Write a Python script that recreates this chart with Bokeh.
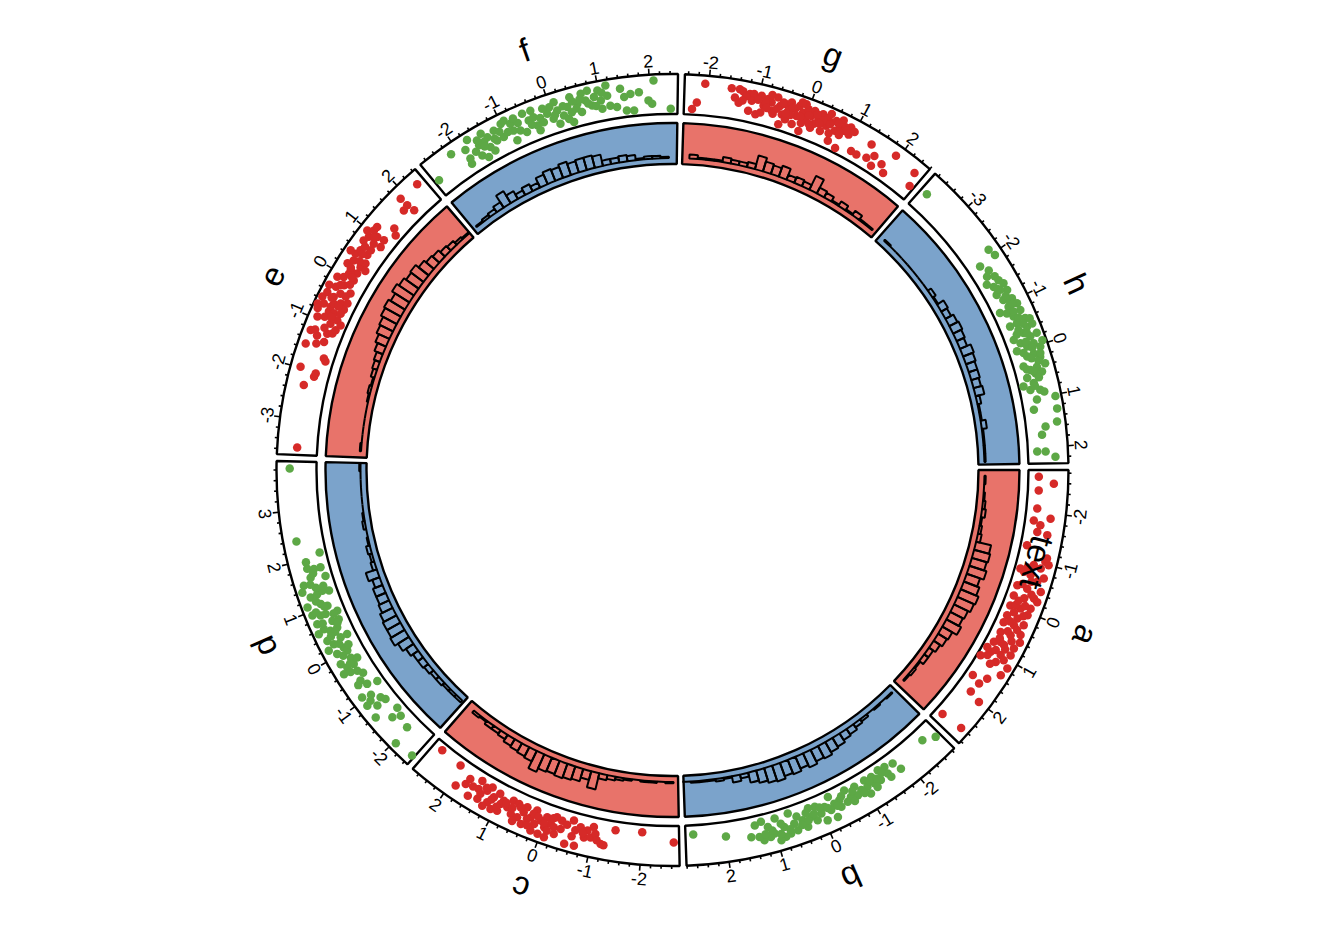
import math
from bokeh.plotting import figure
from bokeh.models import Range1d, ColumnDataSource
from bokeh.core.properties import value
from bokeh.embed import file_html
from bokeh.resources import INLINE

# ---------------- data ----------------
sectors = ["a", "b", "c", "d", "e", "f", "g", "h"]
xlim_min = [-2.86, -2.86, -2.75, -2.48, -3.71, -2.73, -2.47, -3.88]
xlim_max = [2.85, 2.81, 2.75, 3.97, 2.46, 2.55, 2.60, 2.33]

a_x = [-2.72, -2.59, -2.44, -2.07, -1.82, -1.90, -1.74, -1.60, -1.29, -1.57, -1.05, -0.90, -1.00, -0.79, -0.72, -0.73, -0.63, -0.44, -0.44, -0.46, -0.22, -0.24, -0.30, 0.00, -0.02, -0.09, 0.21, 0.19, 0.05, 0.37, 0.34, 0.26, 0.58, 0.55, 0.46, 0.82, 0.78, 0.75, 1.03, 0.99, 0.90, 1.12, 1.20, 1.15, 1.16, 1.63, 1.70, 1.53, 1.33, 1.93, 2.00, 2.65, 2.61, -0.05, 0.76, 0.98, -0.93, -1.12,
       -0.85, -0.60, -0.50, -0.35, -0.15, -0.10, 0.10, 0.10, 0.30, 0.40, 0.50, 0.65, 0.70, 0.85, 0.95, 1.05, 1.25, -0.75, -0.25, 0.60]
a_y = [0.26, 0.64, 0.27, 0.27, 0.22, 0.63, 0.40, 0.35, 0.16, 0.61, 0.70, 0.63, 0.80, 0.14, 0.43, 0.77, 0.64, 0.19, 0.45, 0.80, 0.19, 0.46, 0.69, 0.20, 0.47, 0.70, 0.22, 0.49, 0.69, 0.21, 0.48, 0.70, 0.25, 0.51, 0.73, 0.21, 0.47, 0.73, 0.26, 0.52, 0.74, 0.23, 0.09, 0.83, 0.50, 0.19, 0.44, 0.54, 0.78, 0.39, 0.71, 0.20, 0.78, 0.32, 0.36, 0.13, 0.44, 0.72,
       0.30, 0.50, 0.30, 0.60, 0.35, 0.55, 0.35, 0.60, 0.35, 0.60, 0.40, 0.60, 0.30, 0.55, 0.35, 0.65, 0.40, 0.25, 0.80, 0.80]

b_x = [-2.76, -2.52, -1.82, -1.75, -1.57, -1.55, -1.42, -1.36, -1.23, -1.22, -1.07, -1.06, -0.92, -0.83, -0.81, -0.67, -0.61, -0.57, -0.43, -0.41, -0.31, -0.20, -0.25, -0.10, 0.01, 0.13, 0.08, 0.22, 0.35, 0.41, 0.56, 0.59, 0.71, 0.82, 0.80, 0.93, 1.02, 1.11, 1.12, 1.25, 1.33, 1.37, 1.23, 0.22, 0.65, 0.94, 1.99, 2.65, -1.05, -1.23, -1.57, -0.26, -0.05, 1.49,
       -1.45, -1.30, -1.15, -0.95, -0.75, -0.50, -0.35, -0.15, 0.00, 0.15, 0.30, 0.45, 0.50, 0.70, 0.90, 1.05, 1.20, -0.70, 0.30, 0.85]
b_y = [0.47, 0.30, 0.50, 0.27, 0.22, 0.40, 0.19, 0.44, 0.24, 0.42, 0.22, 0.40, 0.39, 0.23, 0.46, 0.41, 0.19, 0.48, 0.35, 0.52, 0.37, 0.48, 0.15, 0.34, 0.46, 0.58, 0.24, 0.44, 0.64, 0.44, 0.64, 0.45, 0.66, 0.70, 0.45, 0.75, 0.54, 0.60, 0.34, 0.64, 0.53, 0.22, 0.17, 0.21, 0.16, 0.18, 0.36, 0.23, 0.59, 0.54, 0.52, 0.71, 0.68, 0.49,
       0.30, 0.35, 0.30, 0.50, 0.30, 0.28, 0.45, 0.40, 0.30, 0.40, 0.50, 0.55, 0.30, 0.55, 0.60, 0.45, 0.50, 0.55, 0.30, 0.35]

c_x = [2.54, 2.05, 1.90, 1.75, 1.73, 1.59, 1.48, 1.50, 1.31, 1.25, 1.40, 1.20, 1.13, 1.05, 0.92, 1.08, 0.95, 0.80, 0.74, 0.61, 0.68, 0.54, 0.46, 0.43, 0.29, 0.18, 0.22, 0.08, 0.42, 0.20, 0.05, -0.03, -0.02, -0.13, -0.25, -0.09, -0.21, -0.33, -0.50, -0.56, -0.64, -0.73, -0.84, -0.88, -0.69, -0.97, -1.05, -1.19, -1.25, -0.99, -1.44, -1.99, -2.64, 0.26, 1.40, -0.21, 0.95,
       1.60, 1.35, 1.15, 1.00, 0.85, 0.70, 0.55, 0.35, 0.15, 0.00, -0.10, -0.35, -0.45, -0.60, -0.80, -1.10, 0.60, 0.30, -0.15, 1.25]
c_y = [0.17, 0.19, 0.67, 0.50, 0.33, 0.72, 0.43, 0.21, 0.36, 0.22, 0.66, 0.61, 0.42, 0.27, 0.38, 0.72, 0.68, 0.49, 0.27, 0.29, 0.60, 0.61, 0.43, 0.28, 0.48, 0.60, 0.26, 0.46, 0.73, 0.79, 0.80, 0.59, 0.33, 0.45, 0.67, 0.83, 0.25, 0.29, 0.83, 0.20, 0.43, 0.32, 0.55, 0.36, 0.81, 0.51, 0.40, 0.62, 0.64, 0.24, 0.22, 0.19, 0.41, 0.37, 0.51, 0.51, 0.49,
       0.45, 0.30, 0.50, 0.60, 0.40, 0.45, 0.35, 0.55, 0.40, 0.50, 0.65, 0.50, 0.35, 0.60, 0.45, 0.55, 0.75, 0.70, 0.30, 0.75]

d_x = [3.83, 2.39, 2.08, 1.82, 1.78, 1.78, 1.58, 1.63, 1.52, 1.40, 1.26, 1.28, 1.31, 1.27, 1.07, 0.99, 1.10, 0.92, 0.86, 0.85, 0.82, 0.65, 0.73, 0.59, 0.51, 0.54, 0.51, 0.30, 0.35, 0.24, 0.09, 0.30, 0.17, 0.04, -0.16, -0.17, -0.29, -0.30, -0.45, -0.37, -0.65, -0.78, -0.85, -0.94, -1.09, -1.16, -1.25, -1.13, -1.25, -1.54, -1.71, -1.62, -1.41, -1.97, -2.04, -2.43, 0.00, -0.22, 0.67, 1.41,
       1.70, 1.50, 1.40, 1.15, 1.00, 0.80, 0.70, 0.45, 0.40, 0.20, 0.10, -0.05, -0.25, -0.40, -0.55, -0.70, -1.00, 1.95, 0.60, 0.95]
d_y = [0.67, 0.67, 0.16, 0.56, 0.40, 0.23, 0.17, 0.54, 0.76, 0.85, 0.69, 0.51, 0.36, 0.20, 0.51, 0.37, 0.85, 0.81, 0.62, 0.49, 0.19, 0.24, 0.78, 0.68, 0.55, 0.85, 0.36, 0.39, 0.73, 0.62, 0.44, 0.21, 0.81, 0.66, 0.41, 0.71, 0.61, 0.43, 0.44, 0.77, 0.51, 0.42, 0.17, 0.72, 0.60, 0.35, 0.28, 0.74, 0.54, 0.19, 0.26, 0.44, 0.76, 0.34, 0.82, 0.76, 0.40, 0.27, 0.40, 0.49,
       0.45, 0.60, 0.30, 0.60, 0.45, 0.30, 0.65, 0.45, 0.60, 0.50, 0.30, 0.55, 0.50, 0.60, 0.35, 0.62, 0.50, 0.55, 0.30, 0.70]

e_x = [-3.56, -2.31, -1.98, -2.10, -2.03, -1.69, -1.74, -1.52, -1.24, -0.95, -1.37, -1.19, -0.98, -1.15, -1.06, -0.86, -0.93, -0.77, -0.67, -0.67, -0.76, -0.56, -0.44, -0.47, -0.52, -0.61, -0.46, -0.27, -0.35, -0.17, -0.25, -0.09, -0.03, 0.08, 0.01, 0.17, 0.24, 0.35, 0.31, 0.43, 0.48, 0.59, 0.59, 0.71, 0.48, 0.78, 0.90, 0.85, 1.00, 0.88, 1.03, 0.98, 1.06, 1.15, 1.35, 1.26, 1.75, 1.90, 1.87, 1.87, 2.30, -0.71, -0.72, -0.59, 0.16,
       -1.45, -1.30, -1.10, -0.90, -0.85, -0.60, -0.50, -0.35, -0.20, -0.10, 0.05, 0.20, 0.40, 0.55, 0.70, 0.95, -1.20, -0.30, 0.30, -0.80]
e_y = [0.50, 0.56, 0.75, 0.36, 0.34, 0.25, 0.19, 0.80, 0.80, 0.77, 0.38, 0.38, 0.40, 0.26, 0.22, 0.28, 0.15, 0.56, 0.76, 0.57, 0.43, 0.87, 0.81, 0.61, 0.38, 0.24, 0.23, 0.68, 0.50, 0.52, 0.28, 0.77, 0.63, 0.56, 0.37, 0.39, 0.73, 0.64, 0.40, 0.35, 0.69, 0.64, 0.43, 0.43, 0.84, 0.72, 0.67, 0.47, 0.50, 0.28, 0.32, 0.80, 0.67, 0.66, 0.31, 0.17, 0.44, 0.26, 0.47, 0.70, 0.68, 0.27, 0.90, 0.53, 0.57,
       0.55, 0.60, 0.50, 0.60, 0.45, 0.40, 0.65, 0.35, 0.60, 0.40, 0.45, 0.60, 0.50, 0.55, 0.60, 0.55, 0.70, 0.85, 0.25, 0.85]

f_x = [-2.64, -2.14, -1.73, -1.86, -1.90, -1.87, -1.44, -1.46, -1.63, -1.58, -1.36, -1.40, -1.53, -1.19, -1.22, -1.35, -1.01, -0.93, -0.84, -1.07, -0.84, -0.85, -0.71, -0.55, -0.48, -0.38, -0.37, -0.35, -0.33, -0.21, -0.09, -0.01, 0.10, 0.00, 0.12, 0.10, 0.22, 0.33, 0.42, 0.39, 0.38, 0.54, 0.65, 0.59, 0.71, 0.78, 0.82, 0.89, 0.98, 1.01, 1.01, 1.15, 1.15, 1.18, 1.42, 1.48, 1.61, 1.65, 1.78, 1.96, 2.08, 2.41, 1.31, 1.50, 2.03, -1.57,
       -1.70, -1.50, -1.25, -1.10, -0.95, -0.70, -0.60, -0.45, -0.25, -0.15, 0.05, 0.25, 0.30, 0.50, 0.60, 0.75, 0.90, 1.05, -0.75, 0.45]
f_y = [0.40, 0.74, 0.82, 0.63, 0.25, 0.38, 0.78, 0.56, 0.29, 0.55, 0.62, 0.37, 0.17, 0.69, 0.43, 0.23, 0.76, 0.80, 0.66, 0.43, 0.47, 0.21, 0.40, 0.77, 0.55, 0.76, 0.58, 0.35, 0.21, 0.37, 0.54, 0.68, 0.76, 0.37, 0.54, 0.20, 0.37, 0.55, 0.77, 0.39, 0.14, 0.56, 0.78, 0.33, 0.59, 0.82, 0.43, 0.63, 0.77, 0.51, 0.30, 0.86, 0.60, 0.34, 0.72, 0.50, 0.56, 0.14, 0.58, 0.36, 0.85, 0.13, 0.28, 0.16, 0.27, 0.68,
       0.45, 0.45, 0.50, 0.60, 0.50, 0.60, 0.30, 0.42, 0.50, 0.70, 0.45, 0.60, 0.25, 0.45, 0.65, 0.50, 0.40, 0.70, 0.75, 0.65]

g_x = [-2.07, -2.21, -2.30, -1.55, -1.39, -1.32, -1.46, -1.37, -1.18, -1.10, -1.12, -1.15, -0.99, -0.95, -0.87, -0.81, -0.90, -0.73, -0.69, -0.63, -0.55, -0.47, -0.44, -0.37, -0.38, -0.35, -0.25, -0.18, -0.22, -0.18, -0.08, 0.00, -0.04, 0.00, 0.10, 0.16, 0.13, 0.26, 0.37, 0.30, 0.42, 0.44, 0.51, 0.64, 0.59, 0.71, 0.71, 0.82, 0.90, 0.92, 0.80, 0.60, 1.12, 1.25, 1.46, 1.41, 1.58, 1.63, 1.79, 1.92, 1.93, 2.42, 2.51, -0.48, -0.07, -0.60, -0.30, 0.20, -0.85, 0.35, -0.05, 0.55, 0.80, -1.25,
       -1.30, -1.00, -0.80, -0.65, -0.50, -0.30, -0.10, 0.05, 0.20, 0.30, 0.50, 0.65, 0.75, 0.85, -0.40, 0.10, 0.45, -0.15, -0.75, 1.00]
g_y = [0.79, 0.31, 0.14, 0.76, 0.77, 0.73, 0.54, 0.43, 0.70, 0.72, 0.54, 0.28, 0.23, 0.72, 0.49, 0.68, 0.30, 0.62, 0.42, 0.78, 0.59, 0.40, 0.68, 0.53, 0.31, 0.76, 0.63, 0.48, 0.25, 0.74, 0.61, 0.47, 0.14, 0.74, 0.61, 0.32, 0.76, 0.56, 0.34, 0.76, 0.73, 0.52, 0.65, 0.50, 0.74, 0.63, 0.83, 0.61, 0.76, 0.57, 0.12, 0.20, 0.24, 0.23, 0.29, 0.64, 0.43, 0.18, 0.36, 0.20, 0.74, 0.68, 0.35, 0.14, 0.84, 0.50, 0.45, 0.45, 0.58, 0.62, 0.35, 0.38, 0.70, 0.62,
       0.50, 0.60, 0.45, 0.35, 0.70, 0.65, 0.50, 0.60, 0.70, 0.50, 0.60, 0.70, 0.45, 0.65, 0.45, 0.40, 0.85, 0.85, 0.80, 0.70]

h_x = [-3.73, -2.10, -1.95, -1.92, -1.76, -1.53, -1.42, -1.49, -1.39, -1.24, -1.25, -1.10, -1.05, -0.92, -0.93, -0.89, -0.82, -0.71, -0.77, -0.59, -0.56, -0.55, -0.42, -0.42, -0.44, -0.33, -0.22, -0.24, -0.27, -0.16, -0.05, -0.07, 0.03, -0.07, -0.03, 0.14, 0.12, 0.22, 0.37, 0.31, 0.42, 0.39, 0.51, 0.56, 0.69, 0.85, 0.81, 0.71, 1.03, 1.22, 1.03, 1.27, 1.52, 1.59, 1.75, 2.08, 2.09, 2.20, -1.31, -1.00, 0.39, 0.51, -1.67,
       -1.60, -1.35, -1.15, -0.95, -0.80, -0.65, -0.50, -0.35, -0.30, -0.15, 0.00, 0.05, 0.20, 0.28, 0.45, 0.60, 0.75, 0.90, -0.55, 0.15]
h_y = [0.48, 0.73, 0.79, 0.32, 0.45, 0.22, 0.34, 0.53, 0.60, 0.60, 0.31, 0.40, 0.61, 0.67, 0.44, 0.18, 0.33, 0.45, 0.67, 0.70, 0.46, 0.27, 0.43, 0.66, 0.81, 0.52, 0.65, 0.83, 0.23, 0.36, 0.49, 0.67, 0.80, 0.90, 0.21, 0.41, 0.59, 0.72, 0.79, 0.25, 0.39, 0.57, 0.66, 0.26, 0.39, 0.51, 0.27, 0.12, 0.38, 0.26, 0.85, 0.84, 0.79, 0.49, 0.38, 0.23, 0.44, 0.68, 0.45, 0.53, 0.31, 0.49, 0.33,
       0.50, 0.40, 0.50, 0.55, 0.50, 0.55, 0.60, 0.35, 0.60, 0.50, 0.60, 0.35, 0.50, 0.65, 0.45, 0.55, 0.40, 0.60, 0.80, 0.75]

points_x = [a_x, b_x, c_x, d_x, e_x, f_x, g_x, h_x]
points_y = [a_y, b_y, c_y, d_y, e_y, f_y, g_y, h_y]

# histogram: first break (data minimum) and counts per 0.2-wide bin
hist_start = [-2.72, -2.76, -2.64, -2.43, -3.56, -2.64, -2.30, -3.73]
a_hist = [1, 0, 1, 2, 3, 1, 2, 3, 12, 13, 12, 14, 11, 13, 15, 14, 12, 11, 13, 9, 8, 6, 4, 4, 1, 2, 1]
b_hist = [1, 0, 1, 0, 2, 3, 5, 6, 8, 9, 11, 10, 12, 10, 12, 11, 13, 12, 10, 8, 3, 5, 1, 2, 1, 1, 1, 0]
c_hist = [1, 0, 1, 1, 0, 1, 2, 3, 4, 13, 7, 10, 11, 12, 11, 12, 15, 9, 8, 7, 6, 4, 3, 3, 1, 2]
d_hist = [2, 2, 2, 3, 3, 4, 5, 5, 7, 10, 13, 12, 12, 11, 9, 8, 8, 6, 9, 3, 2, 3, 1, 0, 2, 1, 0, 0, 0, 0, 0, 1]
e_hist = [1, 0, 0, 0, 0, 0, 1, 2, 1, 3, 4, 5, 7, 9, 11, 12, 14, 15, 13, 16, 14, 12, 13, 10, 8, 7, 5, 4, 2, 1]
f_hist = [1, 2, 3, 5, 11, 7, 4, 6, 4, 8, 10, 9, 11, 9, 10, 10, 9, 4, 4, 5, 4, 1, 2, 2, 1]
g_hist = [3, 1, 1, 1, 4, 3, 3, 4, 11, 8, 7, 9, 4, 5, 4, 12, 5, 4, 1, 4, 1, 4, 1, 1]
h_hist = [1, 0, 0, 0, 0, 0, 0, 0, 3, 1, 6, 5, 7, 8, 7, 6, 9, 8, 7, 7, 6, 7, 3, 1, 1, 4, 1, 1, 1, 1]
hist_counts = [a_hist, b_hist, c_hist, d_hist, e_hist, f_hist, g_hist, h_hist]
BIN_SIZE = 0.2
HIST_YMAX = 25

text_sector, text_x, text_y, text_label = "a", -1.0, 0.5, "text"

# ---------------- styles / geometry ----------------
RED_PT, GREEN_PT = "#D62A28", "#5DA846"
RED_BG, BLUE_BG = "#E8736A", "#7BA3CB"
point_colors = [RED_PT, GREEN_PT] * 4
bg_colors = [RED_BG, BLUE_BG] * 4
FONT = "Liberation Sans"

GAP_DEG = 1.0
PT_IN, PT_OUT = 0.89, 0.99
HI_IN, HI_OUT = 0.765, 0.8675
HI_BASE, HI_TOP = 0.78, 0.86
MAJOR_LEN, MINOR_LEN = 0.015, 0.0075
NAME_R = 1.1125

U = 400.0
W, H = 1328, 924
CXP, CYP = 672.0, 454.5

widths = [mx - mn for mn, mx in zip(xlim_min, xlim_max)]
k = (360.0 - GAP_DEG * len(sectors)) / sum(widths)
starts = []
acc = 0.0
for w in widths:
    starts.append(-acc)
    acc += w * k + GAP_DEG


def theta(i, x):
    return starts[i] - (x - xlim_min[i]) * k


def pol(r, deg):
    t = math.radians(deg)
    return r * math.cos(t), r * math.sin(t)


p = figure(width=W, height=H,
           x_range=Range1d(-CXP / U, (W - CXP) / U),
           y_range=Range1d(-CYP / U, (H - CYP) / U),
           x_axis_type=None, y_axis_type=None,
           output_backend="svg", toolbar_location=None, min_border=0)
p.outline_line_color = None
p.background_fill_color = "white"

# cells
cell = dict(x=[], y=[], ir=[], orr=[], sa=[], ea=[], fc=[])
for i in range(len(sectors)):
    s = starts[i]
    e = s - widths[i] * k
    for (ri, ro, fc) in [(PT_IN, PT_OUT, "white"), (HI_IN, HI_OUT, bg_colors[i])]:
        cell["x"].append(0.0); cell["y"].append(0.0)
        cell["ir"].append(ri); cell["orr"].append(ro)
        cell["sa"].append(math.radians(e)); cell["ea"].append(math.radians(s))
        cell["fc"].append(fc)
p.annular_wedge(x="x", y="y", inner_radius="ir", outer_radius="orr",
                start_angle="sa", end_angle="ea", fill_color="fc",
                line_color="black", line_width=2.4, source=ColumnDataSource(cell))

# points
for i in range(len(sectors)):
    xs, ys = [], []
    for xv, yv in zip(points_x[i], points_y[i]):
        r = PT_IN + yv * (PT_OUT - PT_IN)
        px, py = pol(r, theta(i, xv))
        xs.append(px); ys.append(py)
    p.scatter(xs, ys, size=8.5, marker="circle", fill_color=point_colors[i], line_color=None)

# histograms
hb = dict(x=[], y=[], ir=[], orr=[], sa=[], ea=[])
for i in range(len(sectors)):
    for j, c in enumerate(hist_counts[i]):
        x0 = hist_start[i] + j * BIN_SIZE
        x1 = x0 + BIN_SIZE
        hb["x"].append(0.0); hb["y"].append(0.0)
        hb["ir"].append(HI_BASE)
        hb["orr"].append(HI_BASE + c / HIST_YMAX * (HI_TOP - HI_BASE))
        hb["sa"].append(math.radians(theta(i, x1)))
        hb["ea"].append(math.radians(theta(i, x0)))
p.annular_wedge(x="x", y="y", inner_radius="ir", outer_radius="orr",
                start_angle="sa", end_angle="ea", fill_color=None,
                line_color="black", line_width=2.0, source=ColumnDataSource(hb))

# axes
seg = dict(x0=[], y0=[], x1=[], y1=[])
lab = dict(x=[], y=[], t=[], ang=[], base=[])
for i in range(len(sectors)):
    m0 = math.ceil(xlim_min[i] / BIN_SIZE - 1e-9)
    m1 = math.floor(xlim_max[i] / BIN_SIZE + 1e-9)
    for m in range(m0, m1 + 1):
        xv = m * BIN_SIZE
        major = (m % 5 == 0)
        th = theta(i, xv)
        a0 = pol(PT_OUT, th)
        a1 = pol(PT_OUT + (MAJOR_LEN if major else MINOR_LEN), th)
        seg["x0"].append(a0[0]); seg["y0"].append(a0[1])
        seg["x1"].append(a1[0]); seg["y1"].append(a1[1])
        if major:
            lx, ly = pol(PT_OUT + MAJOR_LEN + 0.003, th)
            if math.sin(math.radians(th)) < 0:
                ang, base = th + 90, "top"
            else:
                ang, base = th - 90, "bottom"
            lab["x"].append(lx); lab["y"].append(ly)
            lab["t"].append(str(int(round(xv))))
            lab["ang"].append(math.radians(ang)); lab["base"].append(base)
p.segment(x0="x0", y0="y0", x1="x1", y1="y1", line_color="black", line_width=1.6,
          source=ColumnDataSource(seg))
p.text(x="x", y="y", text="t", angle="ang", text_baseline="base", text_align="center",
       text_font=value(FONT), text_font_size=value("18px"), text_color="black",
       source=ColumnDataSource(lab))

# sector names
nm = dict(x=[], y=[], t=[], ang=[])
for i, s in enumerate(sectors):
    xc = (xlim_min[i] + xlim_max[i]) / 2
    th = theta(i, xc)
    nx, ny = pol(NAME_R, th)
    nm["x"].append(nx); nm["y"].append(ny); nm["t"].append(s)
    nm["ang"].append(math.radians(th - 90))
ti = sectors.index(text_sector)
th = theta(ti, text_x)
tx, ty = pol(PT_IN + text_y * (PT_OUT - PT_IN), th)
nm["x"].append(tx); nm["y"].append(ty); nm["t"].append(text_label)
nm["ang"].append(math.radians(th - 90))
p.text(x="x", y="y", text="t", angle="ang", text_baseline="middle", text_align="center",
       text_font=value(FONT), text_font_size=value("33px"), text_color="black",
       source=ColumnDataSource(nm))

open("out.html", "w").write(file_html(p, INLINE))
